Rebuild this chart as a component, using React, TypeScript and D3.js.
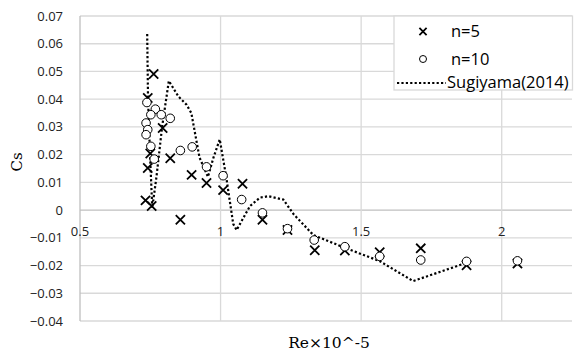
import React from 'react';
import * as d3 from 'd3';

// n=5 (x markers)
const n5Re = [0.762, 0.741, 0.794, 0.75, 0.821, 0.741, 0.897, 0.95, 1.009, 1.078, 0.733, 0.755, 0.857, 1.149, 1.238, 1.335, 1.442, 1.566, 1.712, 1.875, 2.056];
const n5Cs = [0.0491, 0.0404, 0.0296, 0.0204, 0.0187, 0.0152, 0.0127, 0.0098, 0.0072, 0.0095, 0.0035, 0.0015, -0.0035, -0.0035, -0.0072, -0.0145, -0.0146, -0.0152, -0.0138, -0.0199, -0.0193];

// n=10 (circles)
const n10Re = [0.738, 0.768, 0.752, 0.789, 0.821, 0.735, 0.741, 0.735, 0.752, 0.764, 0.857, 0.899, 0.95, 1.009, 1.075, 1.149, 1.238, 1.333, 1.442, 1.566, 1.712, 1.875, 2.056];
const n10Cs = [0.0388, 0.0364, 0.0344, 0.0344, 0.0331, 0.0314, 0.029, 0.0272, 0.023, 0.0184, 0.0215, 0.0228, 0.0156, 0.0124, 0.0038, -0.001, -0.0067, -0.0108, -0.0132, -0.0167, -0.018, -0.0185, -0.0183];

// Sugiyama(2014)
const sugRe = [0.739, 0.742, 0.749, 0.757, 0.772, 0.792, 0.816, 0.85, 0.879, 0.896, 0.925, 0.955, 0.975, 0.997, 1.02, 1.045, 1.057, 1.08, 1.105, 1.14, 1.17, 1.223, 1.26, 1.33, 1.442, 1.566, 1.685, 1.875];
const sugCs = [0.0635, 0.04, 0.02, 0.0008, 0.012, 0.03, 0.0466, 0.041, 0.038, 0.035, 0.019, 0.012, 0.019, 0.0255, 0.012, -0.005, -0.0072, -0.003, 0.0015, 0.0045, 0.005, 0.0038, -0.0015, -0.009, -0.0136, -0.0184, -0.0256, -0.019];

const xTicks = [0.5, 1, 1.5, 2];
const yTicks = [-0.04, -0.03, -0.02, -0.01, 0, 0.01, 0.02, 0.03, 0.04, 0.05, 0.06, 0.07];

const width = 575;
const height = 354;

const x = d3.scaleLinear().domain([0.5, 2.25]).range([80, 572]);
const y = d3.scaleLinear().domain([-0.04, 0.07]).range([321, 16]);

const line = d3
  .line<number>()
  .x((d, i) => x(sugRe[i]))
  .y(d => y(d));

const tickFont = '"Open Sans", "Liberation Sans", sans-serif';
const dots = '2.2 2.2';

const Cross = ({ cx, cy, s }: { cx: number; cy: number; s: number }) => (
  <path
    d={`M${cx - s},${cy - s}L${cx + s},${cy + s}M${cx - s},${cy + s}L${cx + s},${cy - s}`}
    stroke="#000"
    strokeWidth={1.8}
  />
);

export default function App() {
  return (
    <div>
      <style>{'body{margin:0}'}</style>
      <svg width={width} height={height} style={{ display: 'block', background: '#fff' }}>
        {/* grid */}
        {yTicks.map(t => (
          <line key={'h' + t} x1={80} x2={572} y1={y(t)} y2={y(t)} stroke={t === 0 ? '#bfbfbf' : '#d9d9d9'} strokeWidth={1.3} />
        ))}
        {xTicks.map(t => (
          <line key={'v' + t} x1={x(t)} x2={x(t)} y1={16} y2={321} stroke={t === 0.5 ? '#bfbfbf' : '#d9d9d9'} strokeWidth={1.3} />
        ))}

        {/* tick labels */}
        {yTicks.map(t => (
          <text key={'yl' + t} x={63} y={y(t)} dy="0.35em" textAnchor="end" fontFamily={tickFont} fontSize={13} fill="#222">
            {t === 0 ? '0' : d3.format('.2f')(t)}
          </text>
        ))}
        {xTicks.map(t => (
          <text key={'xl' + t} x={x(t)} y={y(0) + 26} textAnchor="middle" fontFamily={tickFont} fontSize={13} fill="#222">
            {t}
          </text>
        ))}

        {/* Sugiyama line */}
        <path d={line(sugCs) || ''} fill="none" stroke="#000" strokeWidth={2.2} strokeDasharray={dots} />

        {/* n=5 */}
        {n5Re.map((r, i) => (
          <Cross key={'x' + i} cx={x(r)} cy={y(n5Cs[i])} s={4.6} />
        ))}
        {/* n=10 */}
        {n10Re.map((r, i) => (
          <circle key={'o' + i} cx={x(r)} cy={y(n10Cs[i])} r={4.3} fill="#fff" stroke="#000" strokeWidth={1} />
        ))}

        {/* axis titles */}
        <text transform="translate(22,162) rotate(-90)" textAnchor="middle" fontFamily='"DejaVu Serif", serif' fontSize={15}>
          Cs
        </text>
        <text x={329} y={348} textAnchor="middle" fontFamily='"DejaVu Serif", serif' fontSize={15.5}>
          Re×10^-5
        </text>

        {/* legend */}
        <rect x={394} y={16} width={178.5} height={74} fill="#fff" stroke="#d9d9d9" strokeWidth={1.3} />
        <Cross cx={423} cy={31.5} s={3.6} />
        <text x={451} y={31.5} dy="0.35em" fontFamily={tickFont} fontSize={16.5}>n=5</text>
        <circle cx={423} cy={59} r={3.5} fill="#fff" stroke="#000" strokeWidth={1} />
        <text x={451} y={59} dy="0.35em" fontFamily={tickFont} fontSize={16.5}>n=10</text>
        <line x1={397} x2={446} y1={83} y2={83} stroke="#000" strokeWidth={2.2} strokeDasharray={dots} />
        <text x={447} y={82} dy="0.35em" fontFamily={tickFont} fontSize={16.5}>Sugiyama(2014)</text>
      </svg>
    </div>
  );
}
